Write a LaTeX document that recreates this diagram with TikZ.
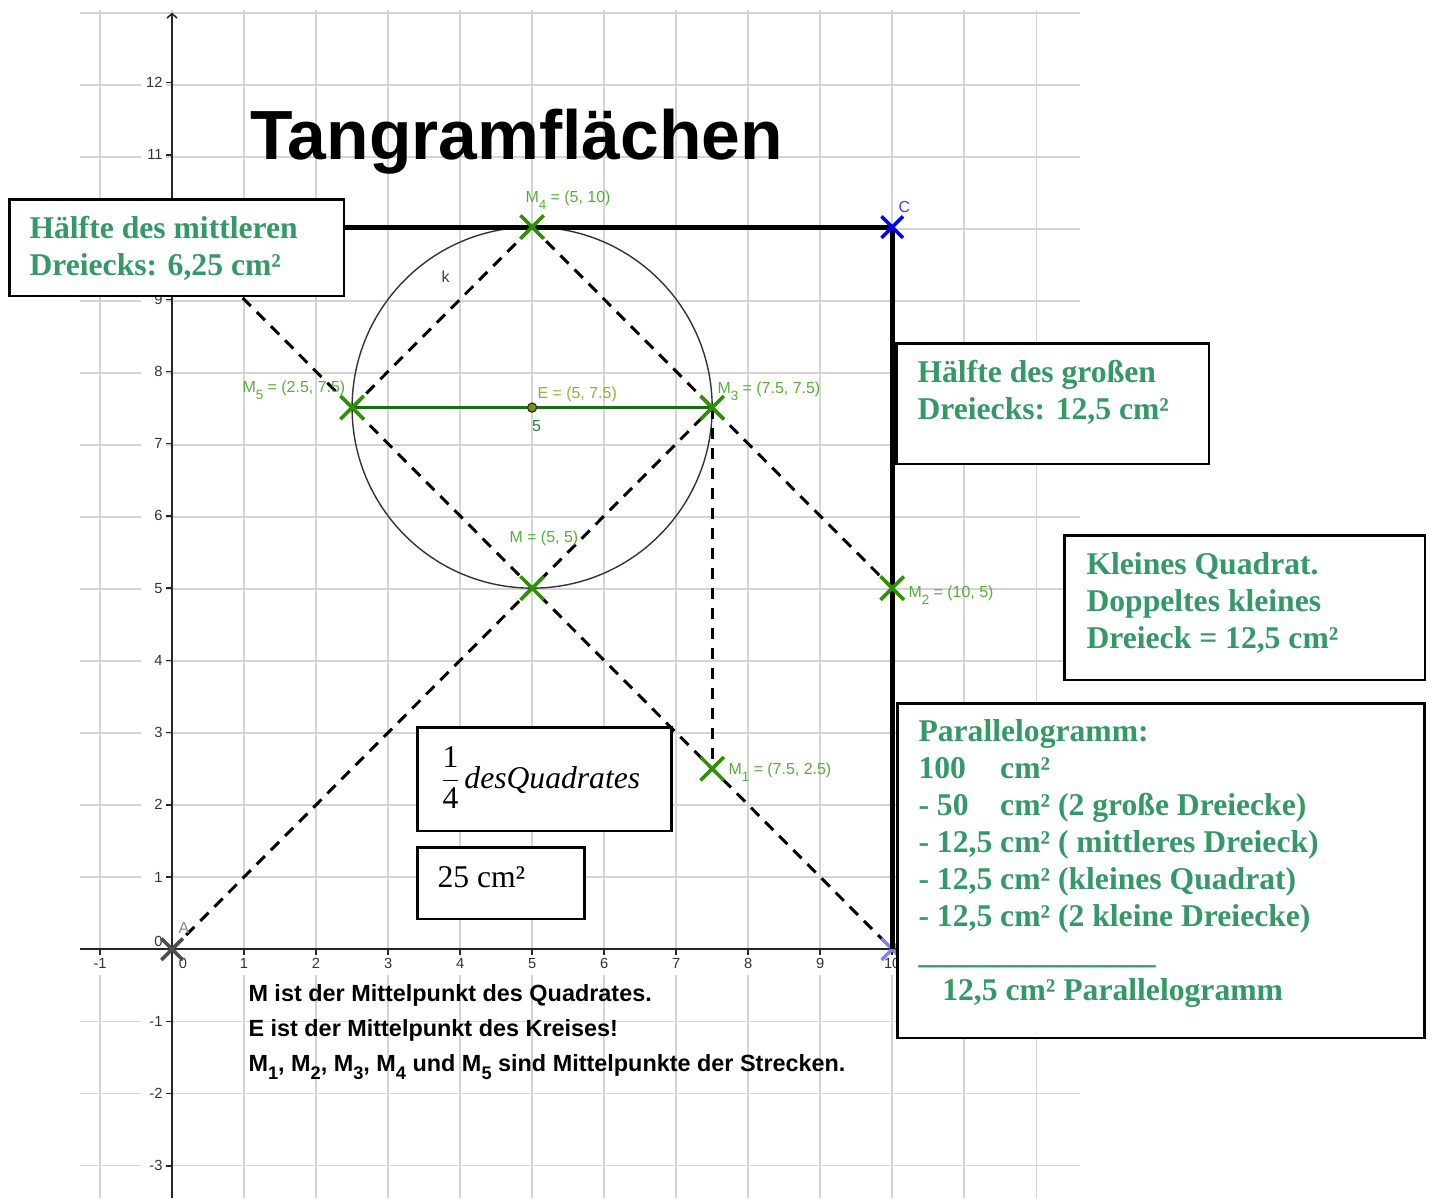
\documentclass[tikz,border=0pt]{standalone}
\usepackage{fontspec}
\setmainfont{Liberation Serif}
\setsansfont{Liberation Sans}
\usetikzlibrary{arrows.meta,shapes.misc}

\definecolor{gridc}{RGB}{212,212,212}
\definecolor{boxgreen}{RGB}{51,153,102}
\definecolor{ptgreen}{RGB}{45,145,0}
\definecolor{lblgreen}{RGB}{85,175,55}
\definecolor{seggreen}{RGB}{20,110,20}
\definecolor{epoint}{RGB}{110,150,0}
\definecolor{elbl}{RGB}{140,180,60}
\definecolor{seglbl}{RGB}{40,130,60}
\definecolor{cblue}{RGB}{0,0,255}
\definecolor{clbl}{RGB}{60,60,255}
\definecolor{bblue}{RGB}{128,128,255}

\newcommand{\msub}[1]{\raisebox{-3pt}{\fontsize{5.3}{5.3}\selectfont #1}}
\newcommand{\bsub}[1]{\raisebox{-3.3pt}{\fontsize{7.2}{7.2}\selectfont\bfseries #1}}

\begin{document}
\begin{tikzpicture}[x=0.0138889cm, y=-0.0138889cm,
  box/.style={draw=black, line width=1pt, fill=white, inner sep=0pt, anchor=north west},
  boxtext/.style={anchor=base west, inner sep=0pt, align=left, text=boxgreen, font=\fontsize{12.5}{14.6}\selectfont\bfseries},
  plaintext/.style={anchor=base west, inner sep=0pt, text=black, font=\fontsize{12.5}{14.6}\selectfont},
  gridline/.style={draw=gridc, line width=0.6pt},
  axisline/.style={draw=black!85, line width=0.6pt},
  ylab/.style={anchor=east, fill=white, inner xsep=1.2pt, inner ysep=1pt, text=black!80, font=\sffamily\fontsize{5.8}{6}\selectfont},
  xlab/.style={anchor=center, fill=white, inner xsep=0.8pt, inner ysep=0pt, minimum height=9pt, text=black!80, font=\sffamily\fontsize{5.8}{6}\selectfont},
  zlab/.style={inner sep=0pt, text=black!80, font=\sffamily\fontsize{5.8}{6}\selectfont},
  dashedline/.style={draw=black, line width=1.18pt, dash pattern=on 4.6pt off 3.3pt},
  sqline/.style={draw=black, line width=2pt},
  segline/.style={draw=seggreen, line width=1.3pt},
  kcircle/.style={draw=black!80, line width=0.55pt},
  xmark/.style={cross out, draw=ptgreen, line width=1.38pt, minimum size=7.87pt, inner sep=0pt},
  ptlabel/.style={anchor=base west, inner sep=0pt, text=lblgreen, font=\sffamily\fontsize{6.3}{7}\selectfont},
  titletext/.style={anchor=base west, inner sep=0pt, font=\sffamily\bfseries\fontsize{27.5}{30}\selectfont},
  notetext/.style={anchor=base west, inner sep=0pt, align=left, font=\sffamily\bfseries\fontsize{9.25}{13.75}\selectfont},
]
\useasboundingbox[fill=white] (0,0) rectangle (1432,1198);

\begin{scope}[shift={(2.388889cm,-13.180556cm)}, x=1cm, y=1.002778cm]
  % grid
  \draw[gridline] (-1.2778,-3.449) grid (12.611,13.005);
  % tick labels (those hidden under the boxes are left out)
  \foreach \y in {-3,-2,-1,1,2,3,4,5,6,7,8,9,11,12}
    \node[ylab] (yl\y) at (-0.0833,\y) {\makebox[7.1pt][r]{\y}};
  \foreach \x in {-1,1,2,3,4,5,6,7,8,9,10}
    \node[xlab] (xl\x) at (\x,-0.194) {\x};
  \node[zlab, anchor=center] (xl0) at (0.153,-0.194) {0};
  \node[zlab, anchor=east] (yl0) at (-0.125,0.111) {0};
  % axes
  \draw[axisline] (-1.2778,0) -- (12.611,0);
  \draw[axisline, -{Straight Barb[length=1.8pt,width=4pt]}] (0,-3.449) -- (0,12.97);
  \foreach \y in {-3,...,12} \draw[axisline] (-0.083,\y) -- (0,\y);
  \foreach \x in {-1,...,12} \draw[axisline] (\x,0) -- (\x,-0.083);

  % points
  \coordinate (A) at (0,0);
  \coordinate (B) at (10,0);
  \coordinate (C) at (10,10);
  \coordinate (D) at (0,10);
  \coordinate (M) at (5,5);
  \coordinate (M1) at (7.5,2.5);
  \coordinate (M2) at (10,5);
  \coordinate (M3) at (7.5,7.5);
  \coordinate (M4) at (5,10);
  \coordinate (M5) at (2.5,7.5);
  \coordinate (E) at (5,7.5);

  % circle k and segment
  \draw[kcircle] (E) circle[radius=2.5];
  \draw[segline] (M5) -- (M3);

  % dashed lines
  \draw[dashedline] (D) -- (B);
  \draw[dashedline] (A) -- (M3);
  \draw[dashedline] (M5) -- (M4);
  \draw[dashedline] (M4) -- (M2);
  \draw[dashedline] (M3) -- (M1);

  % point B under the square line
  \node[xmark, draw=bblue, minimum size=7.1pt] (xB) at (B) {};
  % square sides
  \draw[sqline] (D) -- (C) -- (B);

  % markers
  \node[xmark, draw=black!70, minimum size=7.1pt] (xA) at (A) {};
  \node[xmark, draw=cblue, minimum size=7.1pt] (xC) at (C) {};
  \node[xmark] (xM) at (M) {};
  \node[xmark] (xM1) at (M1) {};
  \node[xmark] (xM2) at (M2) {};
  \node[xmark] (xM3) at (M3) {};
  \node[xmark] (xM4) at (M4) {};
  \node[xmark] (xM5) at (M5) {};
  \node[circle, fill=epoint, draw=black!80, line width=0.5pt, minimum size=3.6pt, inner sep=0pt] (pE) at (E) {};
\end{scope}

% title
\node[titletext] (title) at (250,159) {Tangramflächen};

% point labels
\node[ptlabel] (lM4) at (525,202) {M\msub{4} = (5, 10)};
\node[ptlabel] (lM5) at (242,392) {M\msub{5} = (2.5, 7.5)};
\node[ptlabel, text=elbl] (lE) at (537,398) {E = (5, 7.5)};
\node[ptlabel, text=seglbl] (lseg) at (531.5,431) {5};
\node[ptlabel] (lM3) at (717,393) {M\msub{3} = (7.5, 7.5)};
\node[ptlabel] (lM) at (509,542) {M = (5, 5)};
\node[ptlabel] (lM2) at (908,597) {M\msub{2} = (10, 5)};
\node[ptlabel] (lM1) at (728,774) {M\msub{1} = (7.5, 2.5)};
\node[ptlabel, text=clbl] (lC) at (898,212) {C};
\node[ptlabel, text=black!45] (lA) at (178,933) {A};
\node[ptlabel, text=black!75] (lk) at (441,282) {k};

% boxes (text anchored at the baseline of its last line)
\node[box, minimum width=132.28pt, minimum height=38.19pt] (boxMid) at (8,198) {};
\node[boxtext] (tMid) at (29,275) {Hälfte des mittleren\\Dreiecks: 6,25 cm²};

\node[box, minimum width=123.62pt, minimum height=47.64pt] (boxBig) at (895,342) {};
\node[boxtext] (tBig) at (917,419) {Hälfte des großen\\Dreiecks: 12,5 cm²};

\node[box, minimum width=142.52pt, minimum height=57.09pt] (boxSq) at (1063,534) {};
\node[boxtext] (tSq) at (1086,648) {Kleines Quadrat.\\Doppeltes kleines\\Dreieck = 12,5 cm²};

\node[box, minimum width=208.27pt, minimum height=132.28pt] (boxPar) at (896,702) {};
\node[boxtext] (tPar) at (918,1000) {Parallelogramm:\\
\makebox[2.583em][l]{100}cm²\\
\makebox[2.583em][l]{- 50}cm² (2 große Dreiecke)\\
- 12,5 cm² ( mittleres Dreieck)\\
- 12,5 cm² (kleines Quadrat)\\
- 12,5 cm² (2 kleine Dreiecke)\\
\textunderscore\textunderscore\textunderscore\textunderscore\textunderscore\textunderscore\textunderscore\textunderscore\textunderscore\textunderscore\textunderscore\textunderscore\textunderscore\textunderscore\textunderscore\\
\hspace*{9.4pt}12,5 cm² Parallelogramm};

\node[box, minimum width=100.39pt, minimum height=40.94pt] (boxFrac) at (416,726) {};
\node[plaintext] (tFrac) at (439,788) {$\displaystyle\frac{\mbox{1}}{\mbox{4}}$\hspace{1.2pt}\textit{desQuadrates}};

\node[box, minimum width=66.14pt, minimum height=28.35pt] (boxQ) at (416,846) {};
\node[plaintext] (tQ) at (437,887) {25 cm²};

% note
\node[notetext] (note) at (248,1071) {M ist der Mittelpunkt des Quadrates.\\E ist der Mittelpunkt des Kreises!\\M\bsub{1}, M\bsub{2}, M\bsub{3}, M\bsub{4} und M\bsub{5} sind Mittelpunkte der Strecken.};
\end{tikzpicture}
\end{document}
